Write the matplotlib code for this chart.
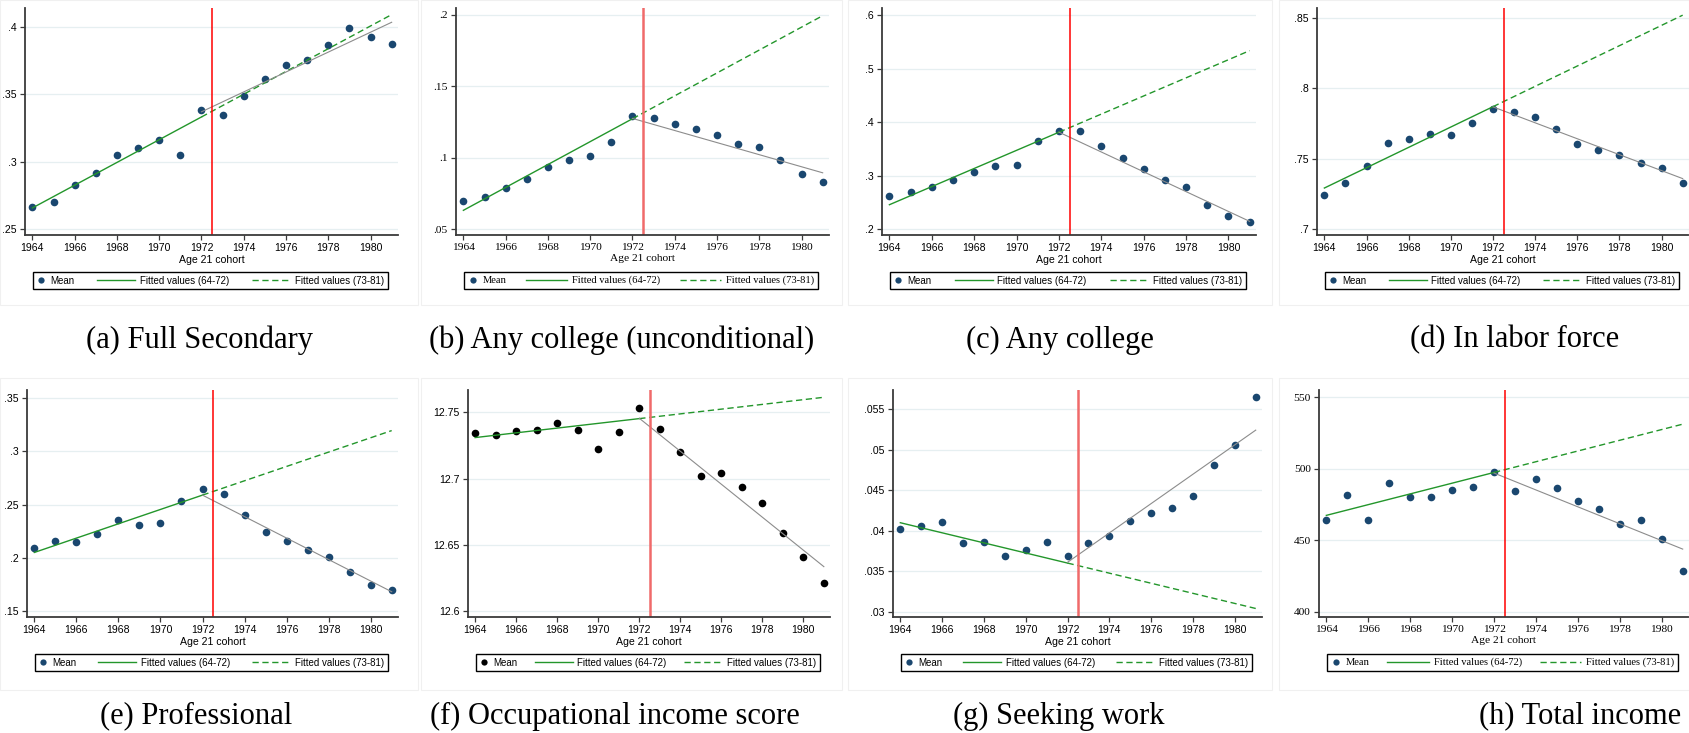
import numpy as np
import matplotlib
matplotlib.use('Agg')
import matplotlib.pyplot as plt
from matplotlib.legend_handler import HandlerLine2D
from matplotlib.patches import Rectangle

# cohort years (age 21)
years = list(range(1964, 1982))

# means, 1964..1981
full_secondary = [0.2661, 0.2700, 0.2824, 0.2916, 0.3052, 0.3104, 0.3161, 0.3050, 0.3384,
                  0.3344, 0.3485, 0.3616, 0.3715, 0.3752, 0.3866, 0.3993, 0.3926, 0.3871]
any_college_uncond = [0.0696, 0.0726, 0.0785, 0.0848, 0.0934, 0.0985, 0.1011, 0.1107, 0.1295,
                      0.1279, 0.1237, 0.1202, 0.1160, 0.1095, 0.1076, 0.0981, 0.0883, 0.0827]
any_college = [0.2610, 0.2684, 0.2778, 0.2908, 0.3058, 0.3182, 0.3200, 0.3636, 0.3835,
               0.3823, 0.3555, 0.3325, 0.3120, 0.2921, 0.2784, 0.2454, 0.2249, 0.2137]
labor_force = [0.7244, 0.7327, 0.7450, 0.7609, 0.7637, 0.7673, 0.7668, 0.7751, 0.7853,
               0.7832, 0.7794, 0.7711, 0.7604, 0.7562, 0.7527, 0.7469, 0.7434, 0.7329]
professional = [0.2094, 0.2159, 0.2144, 0.2219, 0.2356, 0.2306, 0.2331, 0.2531, 0.2647,
                0.2600, 0.2403, 0.2241, 0.2153, 0.2072, 0.2006, 0.1869, 0.1747, 0.1697]
occ_score = [12.7341, 12.7329, 12.7357, 12.7364, 12.7420, 12.7364, 12.7223, 12.7349, 12.7533,
             12.7377, 12.7203, 12.7022, 12.7039, 12.6936, 12.6818, 12.6591, 12.6410, 12.6214]
seeking_work = [0.04020, 0.04057, 0.04102, 0.03843, 0.03863, 0.03691, 0.03761, 0.03863, 0.03683,
                0.03845, 0.03940, 0.04120, 0.04214, 0.04274, 0.04430, 0.04810, 0.05057, 0.05650]
total_income = [464.4, 481.6, 463.9, 489.8, 480.5, 480.5, 485.2, 487.3, 497.7,
                484.4, 492.5, 486.8, 477.5, 472.1, 461.3, 464.4, 450.7, 428.6]

# fitted values: 64-72 fit at 1964 and 1981 (extrapolated), 73-81 fit at 1972 and 1981
full_secondary_pre, full_secondary_post = [0.2656, 0.4092], [0.3370, 0.4035]
any_college_uncond_pre, any_college_uncond_post = [0.0631, 0.1995], [0.1275, 0.0894]
any_college_pre, any_college_post = [0.2454, 0.5334], [0.3810, 0.2143]
labor_force_pre, labor_force_post = [0.7291, 0.8520], [0.7868, 0.7358]
professional_pre, professional_post = [0.2050, 0.3194], [0.2588, 0.1681]
occ_score_pre, occ_score_post = [12.7309, 12.7613], [12.7455, 12.6335]
seeking_work_pre, seeking_work_post = [0.04098, 0.03040], [0.03610, 0.05240]
total_income_pre, total_income_post = [467.4, 531.2], [497.0, 443.8]

captions = ['(a) Full Secondary', '(b) Any college (unconditional)', '(c) Any college',
            '(d) In labor force', '(e) Professional', '(f) Occupational income score',
            '(g) Seeking work', '(h) Total income']
legend_labels = ['Mean', 'Fitted values (64-72)', 'Fitted values (73-81)']
xticks = list(range(1964, 1982, 2))

NAVY = '#1a476f'
GREEN = '#23962b'
GRID = '#e6eff1'
W, H = 1690, 733

# per panel: data, fits, serif?, marker colour, red line (colour, width), yticks, ylim,
# axes px (left, right), row, caption centre px
panels = [
    (full_secondary, full_secondary_pre, full_secondary_post, False, NAVY, ('#ff0000', 1.1),
     [.25, .3, .35, .4], (0.2455, 0.4141), (25, 398), 0, 200),
    (any_college_uncond, any_college_uncond_pre, any_college_uncond_post, True, NAVY, ('#f06a6a', 1.8),
     [.05, .1, .15, .2], (0.0458, 0.2049), (456, 829), 0, 622),
    (any_college, any_college_pre, any_college_post, False, NAVY, ('#ff0000', 1.1),
     [.2, .3, .4, .5, .6], (0.1888, 0.6131), (882, 1256), 0, 1060),
    (labor_force, labor_force_pre, labor_force_post, False, NAVY, ('#ff0000', 1.1),
     [.7, .75, .8, .85], (0.6957, 0.8571), (1317, 1689), 0, 1515),
    (professional, professional_pre, professional_post, False, NAVY, ('#ff0000', 1.1),
     [.15, .2, .25, .3, .35], (0.1444, 0.3575), (27, 398), 1, 196),
    (occ_score, occ_score_pre, occ_score_post, False, 'black', ('#f06a6a', 1.8),
     [12.6, 12.65, 12.7, 12.75], (12.5955, 12.7668), (468, 830), 1, 615),
    (seeking_work, seeking_work_pre, seeking_work_post, False, NAVY, ('#f06a6a', 1.8),
     [.03, .035, .04, .045, .05, .055], (0.02935, 0.05735), (893, 1262), 1, 1059),
    (total_income, total_income_pre, total_income_post, True, NAVY, ('#ff0000', 1.1),
     [400, 450, 500, 550], (396.3, 555.1), (1319, 1689), 1, 1580),
]
row_top = [8, 390]
row_caption = [340, 716]
ax_h = 227


def stata_fmt(v):
    s = f'{v:g}'
    return s[1:] if s.startswith('0.') else s


class LongLine(HandlerLine2D):
    # legend line that reaches further left than the handle box
    def create_artists(self, legend, orig_handle, xdescent, ydescent, width, height, fontsize, trans):
        ext = 3.0 * fontsize
        return super().create_artists(legend, orig_handle, xdescent + ext, ydescent,
                                      width + ext, height, fontsize, trans)


fig = plt.figure(figsize=(W / 100, H / 100), dpi=100)
fig.patch.set_facecolor('white')

# faint subgraph frames
for y0, y1 in [(0, 305), (378, 690)]:
    for x0, x1 in [(0, 418), (421, 842), (848, 1272), (1279, 1689)]:
        fig.add_artist(Rectangle((x0 / W, 1 - y1 / H), (x1 - x0) / W, (y1 - y0) / H,
                                 transform=fig.transFigure, fill=False, ec='#f0f0f0', lw=0.8))

for i, (vals, pre, post, serif, mcol, red, yt, ylim, (xl, xr), row, capx) in enumerate(panels):
    fam = 'Liberation Serif' if serif else 'Liberation Sans'
    fs = 8.2 if serif else 7.6
    top = row_top[row]
    ax = fig.add_axes([xl / W, 1 - (top + ax_h) / H, (xr - xl) / W, ax_h / H])

    ax.plot(years, vals, 'o', color=mcol, ms=5.5, mew=0, label=legend_labels[0])
    x_pre = [1964, 1972]
    x_ext = [1972, 1981]
    ax.plot(x_pre, np.interp(x_pre, [1964, 1981], pre), color=GREEN, lw=1.0,
            label=legend_labels[1])
    ax.plot(x_ext, np.interp(x_ext, [1964, 1981], pre), color=GREEN, lw=1.0,
            ls=(0, (4.5, 2.6)), label=legend_labels[2])
    ax.plot(x_ext, post, color='#8c8c8c', lw=0.8)
    ax.axvline(1972.5, color=red[0], lw=red[1])

    ax.set_xlim(1963.65, 1981.3)
    ax.set_ylim(*ylim)
    ax.set_xticks(xticks)
    ax.set_yticks(yt)
    ax.set_yticklabels([stata_fmt(v) for v in yt])
    ax.grid(axis='y', color=GRID, lw=0.9)
    ax.set_axisbelow(True)
    for s in ['top', 'right']:
        ax.spines[s].set_visible(False)
    for s in ['left', 'bottom']:
        ax.spines[s].set_color('#3a3a3a')
        ax.spines[s].set_linewidth(1.3)
    ax.tick_params(direction='out', length=3.5, width=0.9, color='#3a3a3a',
                   labelsize=fs, pad=2.5)
    for lab in ax.get_xticklabels() + ax.get_yticklabels():
        lab.set_family(fam)
    ax.set_xlabel('Age 21 cohort', fontsize=fs, family=fam, labelpad=1.5)

    handles, labels = ax.get_legend_handles_labels()
    leg = ax.legend(handles, labels, ncol=3, mode='expand', loc='center',
                    bbox_to_anchor=(0.008, -0.243, 0.977, 0.084),
                    handlelength=0.9, handletextpad=0.5, borderpad=0.35,
                    fancybox=False, framealpha=1, edgecolor='black',
                    prop={'family': fam, 'size': 7.6 if serif else 7.0},
                    handler_map={handles[1]: LongLine(), handles[2]: LongLine()})
    leg.get_frame().set_linewidth(1.0)
    leg.legend_handles[0].set_markersize(4.5)

    fig.text(capx / W, 1 - row_caption[row] / H, captions[i], ha='center', va='center',
             fontsize=22, family='Liberation Serif')

plt.savefig('out.png', dpi=100, facecolor='white')
